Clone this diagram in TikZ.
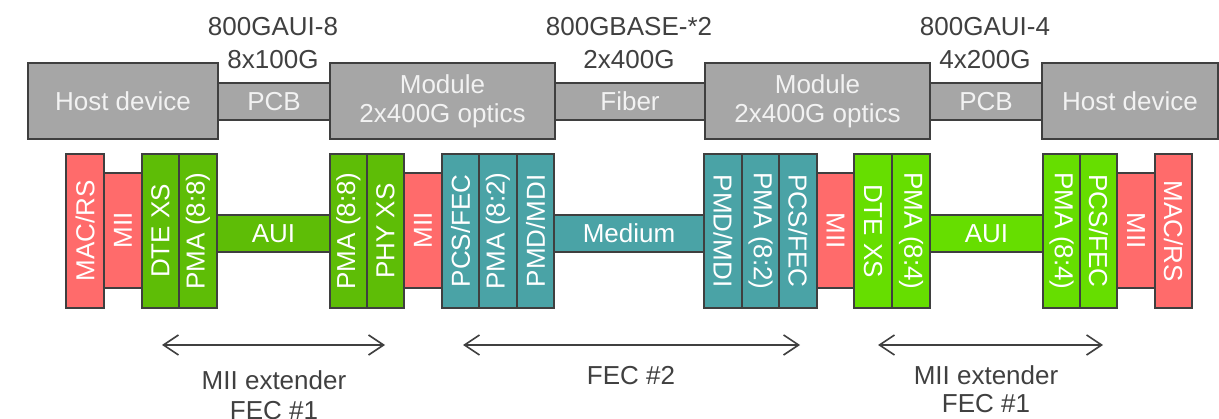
\documentclass[tikz,border=0pt]{standalone}
\usepackage{fontspec}
\setmainfont{Liberation Sans}
\usetikzlibrary{arrows.meta}
\definecolor{boxgray}{HTML}{A6A6A6}
\definecolor{edgec}{HTML}{3F3F3F}
\definecolor{salmonc}{HTML}{FF6B6B}
\definecolor{greenlc}{HTML}{5EBD06}
\definecolor{greenrc}{HTML}{66DE00}
\definecolor{tealc}{HTML}{4AA3A6}
\definecolor{lblc}{HTML}{404040}
\newcommand\hblk[7]{\node[#6, minimum width={(#3)-(#2)}, minimum height={(#5)-(#4)}] (#1) at ({((#2)+(#3))/2},{((#4)+(#5))/2}) {#7};}
\newcommand\ublk[7]{\node[#6, rotate=90, minimum width={(#5)-(#4)}, minimum height={(#3)-(#2)}] (#1) at ({((#2)+(#3))/2},{((#4)+(#5))/2}) {#7};}
\newcommand\dblk[7]{\node[#6, rotate=-90, minimum width={(#5)-(#4)}, minimum height={(#3)-(#2)}] (#1) at ({((#2)+(#3))/2},{((#4)+(#5))/2}) {#7};}
\begin{document}
\begin{tikzpicture}[x=1pt,y=-1pt,
  blk/.style={draw=edgec, line width=1.6pt, inner sep=0pt, text=white, font=\fontsize{26}{30}\selectfont, align=center},
  gbox/.style={blk, fill=boxgray, text=white!95!black},
  macbox/.style={blk, fill=salmonc},
  glbox/.style={blk, fill=greenlc},
  grbox/.style={blk, fill=greenrc},
  tbox/.style={blk, fill=tealc},
  toplbl/.style={anchor=north, inner sep=0pt, text=lblc, align=center, font=\fontsize{26}{33}\selectfont},
  botlbl/.style={anchor=north, inner sep=0pt, text=lblc, align=center, font=\fontsize{26}{30}\selectfont},
  span/.style={draw=lblc, line width=1.6pt, {Straight Barb[length=15pt,width=20pt]}-{Straight Barb[length=15pt,width=20pt]}}
]
\useasboundingbox (0,0) rectangle (1219,419);
% top row
\hblk{pcbl}{218}{330}{83}{120}{gbox}{PCB}
\hblk{fiber}{555}{705}{83}{120}{gbox}{Fiber}
\hblk{pcbr}{930}{1042}{83}{120}{gbox}{PCB}
\hblk{hostl}{28}{218}{63}{139}{gbox}{Host device}
\hblk{modl}{330}{555}{63}{139}{gbox}{Module\\[-1pt]2x400G optics}
\hblk{modr}{705}{930}{63}{139}{gbox}{Module\\[-1pt]2x400G optics}
\hblk{hostr}{1042}{1218}{63}{139}{gbox}{Host device}
\node[toplbl] (t1) at (273,17) {800GAUI-8\\8x100G};
\node[toplbl] (t2) at (629,17) {800GBASE-*2\\2x400G};
\node[toplbl] (t3) at (985,17) {800GAUI-4\\4x200G};
% bottom row
\hblk{auil}{217}{330}{215}{252}{glbox}{AUI}
\hblk{medium}{554}{704}{215}{252}{tbox}{Medium}
\hblk{auir}{930}{1043}{215}{252}{grbox}{AUI}
\ublk{mac1}{66}{104}{154}{308}{macbox}{MAC/RS}
\ublk{mii1}{104}{142}{173}{288}{macbox}{MII}
\ublk{dte1}{142}{179}{154}{308}{glbox}{DTE XS}
\ublk{pma1}{179}{217}{154}{308}{glbox}{PMA (8:8)}
\ublk{pma2}{330}{367}{154}{308}{glbox}{PMA (8:8)}
\ublk{phy1}{367}{404}{154}{308}{glbox}{PHY XS}
\ublk{mii2}{404}{442}{173}{288}{macbox}{MII}
\ublk{pcs1}{442}{479}{154}{308}{tbox}{PCS/FEC}
\ublk{pma3}{479}{517}{154}{308}{tbox}{PMA (8:2)}
\ublk{pmd1}{517}{554}{154}{308}{tbox}{PMD/MDI}
\dblk{pmd2}{704}{742}{154}{308}{tbox}{PMD/MDI}
\dblk{pma4}{742}{779}{154}{308}{tbox}{PMA (8:2)}
\dblk{pcs2}{779}{817}{154}{308}{tbox}{PCS/FEC}
\dblk{mii3}{817}{854}{173}{288}{macbox}{MII}
\dblk{dte2}{854}{892}{154}{308}{grbox}{DTE XS}
\dblk{pma5}{892}{930}{154}{308}{grbox}{PMA (8:4)}
\dblk{pma6}{1043}{1080}{154}{308}{grbox}{PMA (8:4)}
\dblk{pcs3}{1080}{1117}{154}{308}{grbox}{PCS/FEC}
\dblk{mii4}{1117}{1155}{173}{288}{macbox}{MII}
\dblk{mac2}{1155}{1192}{154}{308}{macbox}{MAC/RS}
% spans
\coordinate (a1) at (162,345); \coordinate (b1) at (385,345);
\coordinate (a2) at (463,345); \coordinate (b2) at (800,345);
\coordinate (a3) at (878,345); \coordinate (b3) at (1103,345);
\draw[span] (a1) -- (b1);
\draw[span] (a2) -- (b2);
\draw[span] (a3) -- (b3);
\node[botlbl] (l1) at (274,370) {MII extender\\FEC \#1};
\node[botlbl] (l2) at (631,366) {FEC \#2};
\node[botlbl, font=\fontsize{26}{28}\selectfont] (l3) at (986,365) {MII extender\\FEC \#1};
\end{tikzpicture}
\end{document}
